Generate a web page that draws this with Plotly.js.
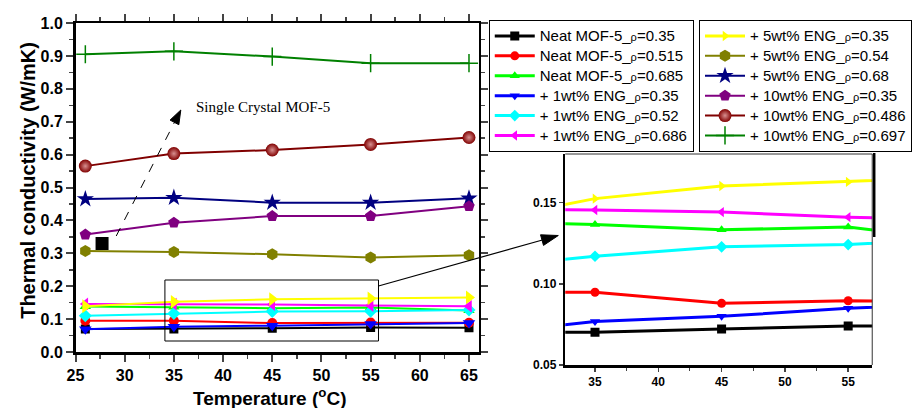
<!DOCTYPE html>
<html>
<head>
<meta charset="utf-8">
<script src="https://cdn.plot.ly/plotly-3.0.1.min.js"></script>
<style>html,body{margin:0;padding:0;background:#fff;}#chart{width:912px;height:408px;}</style>
</head>
<body>
<div id="chart"></div>
<script>
// ---- data ----
const temperature = [26, 35, 45, 55, 65];
const neat_035   = [0.070, 0.0702, 0.0722, 0.0741, 0.074];
const neat_0515  = [0.095, 0.0948, 0.088, 0.0896, 0.089];
const neat_0685  = [0.138, 0.1366, 0.1333, 0.135, 0.126];
const eng1_035   = [0.069, 0.0768, 0.080, 0.0849, 0.088];
const eng1_052   = [0.110, 0.117, 0.1228, 0.1242, 0.128];
const eng1_0686  = [0.146, 0.1455, 0.1442, 0.1411, 0.139];
const eng5_035   = [0.139, 0.1525, 0.1603, 0.1628, 0.166];
const eng5_054   = [0.307, 0.304, 0.297, 0.287, 0.294];
const eng5_068   = [0.465, 0.469, 0.454, 0.454, 0.467];
const eng10_035  = [0.357, 0.393, 0.413, 0.413, 0.443];
const eng10_0486 = [0.565, 0.603, 0.614, 0.631, 0.652];
const eng10_0697 = [0.905, 0.914, 0.898, 0.878, 0.878];
const singleCrystalT = [27.7];
const singleCrystalK = [0.330];

const seriesNames = [
  "Neat MOF-5_", "Neat MOF-5_", "Neat MOF-5_",
  "+ 1wt% ENG_", "+ 1wt% ENG_", "+ 1wt% ENG_",
  "+ 5wt% ENG_", "+ 5wt% ENG_", "+ 5wt% ENG_",
  "+ 10wt% ENG_", "+ 10wt% ENG_", "+ 10wt% ENG_"
];
const densities = ["0.35","0.515","0.685","0.35","0.52","0.686","0.35","0.54","0.68","0.35","0.486","0.697"];
const seriesValues = [neat_035, neat_0515, neat_0685, eng1_035, eng1_052, eng1_0686,
                      eng5_035, eng5_054, eng5_068, eng10_035, eng10_0486, eng10_0697];
const inInset = [true, true, true, true, true, true, true, false, false, false, false, false];

// ---- styles ----
const colors = ['#000000','#FF0000','#00FF00','#0000FF','#00FFFF','#FF00FF',
                '#FFFF00','#808000','#000080','#800080','#800000','#008000'];
const symbols = ['square','circle','triangle-up','triangle-down','diamond','triangle-left',
                 'triangle-right','hexagon','star','pentagon','circle','cross-thin'];
const mainSizes = [9,10,10,11,10,11,12,12,13,12,13,13];

const FONT = 'Liberation Sans, Arial, sans-serif';
function legendName(i) {
  return "<span style='font-size:15px'>" + seriesNames[i] +
         "<span style='font-size:11px'>ρ</span>=" + densities[i] + "</span>";
}
const traces = [];
for (let i = 0; i < 12; i++) {
  const mk = {symbol: symbols[i], color: colors[i], size: mainSizes[i], line: {width: 0}};
  if (symbols[i] === 'cross-thin') mk.line = {color: colors[i], width: 1.5};
  if (i === 10) mk.gradient = {type: 'radial', color: '#d89090'};
  traces.push({
    x: temperature, y: seriesValues[i], type: 'scatter', mode: 'lines+markers',
    xaxis: 'x', yaxis: 'y', name: legendName(i),
    line: {color: colors[i], width: 2},
    marker: mk,
    showlegend: !inInset[i],
    legend: i < 6 ? 'legend' : 'legend2',
    legendrank: i + 1
  });
}
// inset traces (also used for legend entries of low series)
for (let i = 0; i < 12; i++) {
  if (!inInset[i]) continue;
  traces.push({
    x: temperature, y: seriesValues[i], type: 'scatter', mode: 'lines+markers',
    xaxis: 'x2', yaxis: 'y2', name: legendName(i),
    line: {color: colors[i], width: 3},
    marker: {symbol: symbols[i], color: colors[i], size: 9, line: {width: 0}},
    showlegend: true,
    legend: i < 6 ? 'legend' : 'legend2',
    legendrank: i + 1
  });
}
// single crystal point
traces.push({
  x: singleCrystalT, y: singleCrystalK, type: 'scatter', mode: 'markers',
  xaxis: 'x', yaxis: 'y', showlegend: false,
  marker: {symbol: 'square', color: '#000', size: 13}
});

const W = 912, H = 408;
const px = v => v / W;
const py = v => 1 - v / H;
function pathFrom(pts) {
  return 'M' + pts.map(p => px(p[0]).toFixed(5) + ',' + py(p[1]).toFixed(5)).join(' L') + ' Z';
}

const legendCommon = {
  xanchor: 'left', yanchor: 'top', bordercolor: '#000', borderwidth: 1, bgcolor: '#fff',
  font: {family: FONT, size: 13, color: '#000'}, itemwidth: 40, tracegroupgap: 0,
  traceorder: 'normal'
};

const layout = {
  width: W, height: H,
  margin: {l: 0, r: 0, t: 0, b: 0},
  paper_bgcolor: '#fff', plot_bgcolor: '#fff',
  font: {family: FONT, color: '#000'},
  xaxis: {
    domain: [px(76), px(482)], range: [25, 66], anchor: 'y',
    tick0: 25, dtick: 5, ticks: 'outside', ticklen: 7, tickwidth: 2,
    minor: {dtick: 2.5, ticks: 'outside', ticklen: 4, tickwidth: 1.5},
    showline: true, linewidth: 2.5, linecolor: '#000', mirror: 'ticks',
    showgrid: false, zeroline: false,
    tickfont: {family: FONT, size: 16, weight: 'bold'}
  },
  yaxis: {
    domain: [1 - 352 / H, 1 - 23 / H], range: [0, 1.0], anchor: 'x',
    tick0: 0, dtick: 0.1, tickformat: '.1f', ticks: 'outside', ticklen: 7, tickwidth: 2,
    minor: {dtick: 0.05, ticks: 'outside', ticklen: 4, tickwidth: 1.5},
    showline: true, linewidth: 2.5, linecolor: '#000', mirror: 'ticks',
    showgrid: false, zeroline: false,
    tickfont: {family: FONT, size: 16, weight: 'bold'}
  },
  xaxis2: {
    domain: [px(569), px(878)], range: [32.65, 56.9], anchor: 'y2',
    tick0: 35, dtick: 5, ticks: 'outside', ticklen: 4, tickwidth: 1.5,
    minor: {dtick: 2.5, ticks: 'outside', ticklen: 3, tickwidth: 1},
    showline: true, linewidth: 2.5, linecolor: '#000', mirror: false,
    showgrid: false, zeroline: false,
    tickfont: {family: FONT, size: 12, weight: 'bold'}
  },
  yaxis2: {
    domain: [1 - 365 / H, 1 - 154 / H], range: [0.05, 0.18], anchor: 'x2',
    tickvals: [0.05, 0.10, 0.15], tickformat: '.2f', ticks: 'outside', ticklen: 4, tickwidth: 1.5,
    showline: true, linewidth: 2.5, linecolor: '#000', mirror: false,
    showgrid: false, zeroline: false,
    tickfont: {family: FONT, size: 12, weight: 'bold'}
  },
  legend: Object.assign({x: px(492), y: py(20)}, legendCommon),
  legend2: Object.assign({x: px(704), y: py(20)}, legendCommon),
  shapes: [
    // zoom rectangle
    {type: 'rect', xref: 'paper', yref: 'paper', x0: px(166), x1: px(381), y0: py(341), y1: py(280),
     line: {color: '#000', width: 1}},
    // dashed arrow shaft + head
    {type: 'line', xref: 'paper', yref: 'paper', x0: px(117), y0: py(236), x1: px(175.6), y1: py(122.4),
     line: {color: '#000', width: 1, dash: 'dash'}},
    {type: 'path', xref: 'paper', yref: 'paper',
     path: pathFrom([[182, 110], [180.0, 124.7], [171.2, 120.1]]),
     fillcolor: '#000', line: {color: '#000', width: 1}},
    // connector arrow to inset
    {type: 'line', xref: 'paper', yref: 'paper', x0: px(381), y0: py(286), x1: px(546), y1: py(240),
     line: {color: '#000', width: 1.2}},
    {type: 'path', xref: 'paper', yref: 'paper',
     path: pathFrom([[562, 235.5], [547.1, 245.4], [544.1, 234.8]]),
     fillcolor: '#000', line: {color: '#000', width: 1}},
    // inset top / right borders
    {type: 'line', xref: 'paper', yref: 'paper', x0: px(569), y0: py(154), x1: px(878), y1: py(154),
     line: {color: '#333', width: 1}},
    {type: 'line', xref: 'paper', yref: 'paper', x0: px(878), y0: py(154), x1: px(878), y1: py(365),
     line: {color: '#333', width: 1}},
    {type: 'line', xref: 'paper', yref: 'paper', x0: px(880), y0: py(153), x1: px(880), y1: py(237),
     line: {color: '#000', width: 2.5}}
  ],
  annotations: [
    {text: 'Thermal conductivity (W/mK)', xref: 'paper', yref: 'paper', x: px(28), y: py(180),
     textangle: -90, showarrow: false, xanchor: 'center', yanchor: 'middle',
     font: {family: FONT, size: 20, weight: 'bold'}},
    {text: 'Temperature (<sup>o</sup>C)', xref: 'paper', yref: 'paper', x: px(271), y: py(397),
     showarrow: false, xanchor: 'center', yanchor: 'middle',
     font: {family: FONT, size: 19, weight: 'bold'}},
    {text: 'Single Crystal MOF-5', xref: 'paper', yref: 'paper', x: px(265), y: py(107),
     showarrow: false, xanchor: 'center', yanchor: 'middle',
     font: {family: 'Liberation Serif, Times New Roman, serif', size: 15}}
  ]
};

Plotly.newPlot('chart', traces, layout, {displayModeBar: false, staticPlot: true});
</script>
</body>
</html>
